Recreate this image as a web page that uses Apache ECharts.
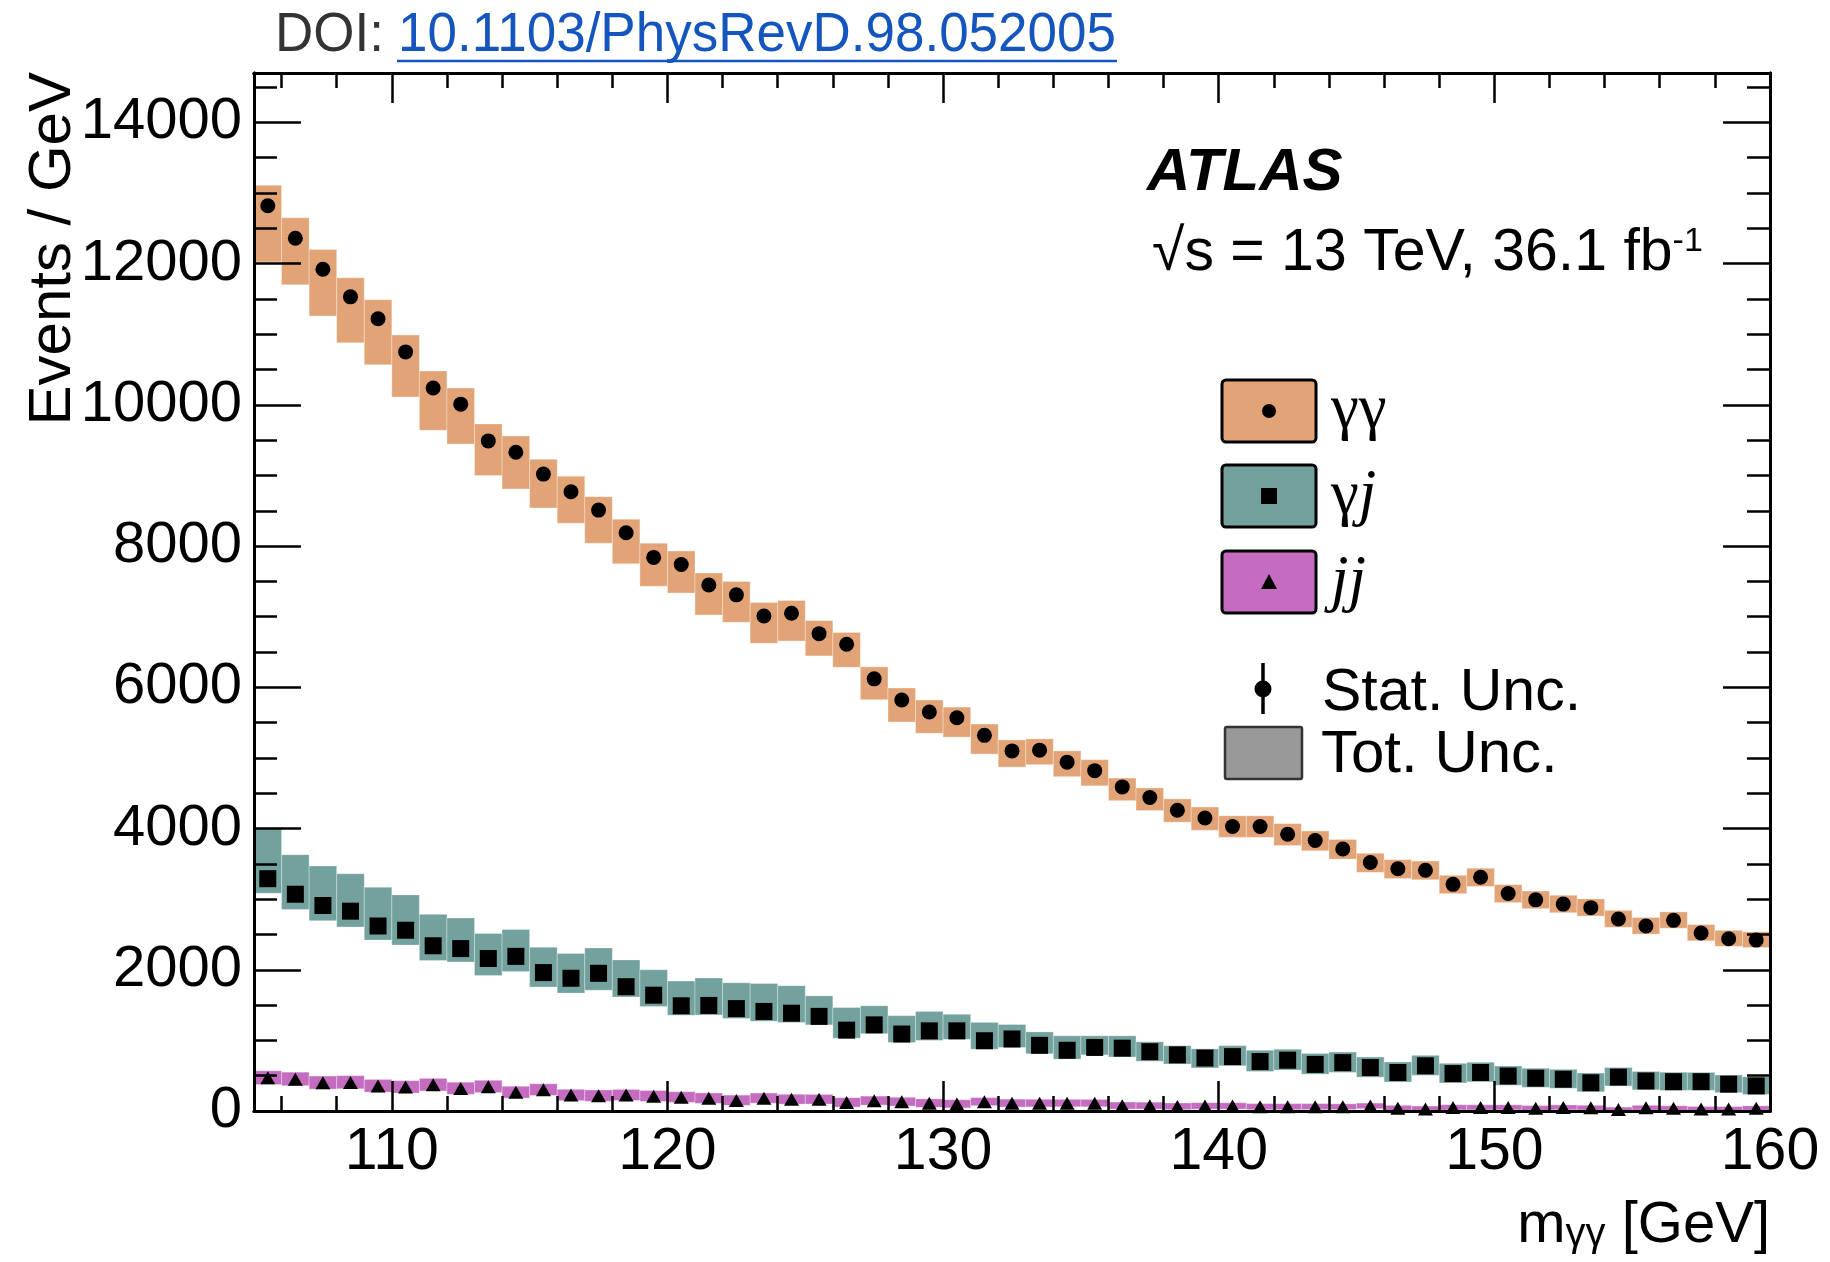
<!DOCTYPE html>
<html><head><meta charset="utf-8">
<script src="https://cdn.jsdelivr.net/npm/echarts@6/dist/echarts.min.js"></script>
<style>html,body{margin:0;padding:0;background:#fff}#c{width:1830px;height:1262px}</style>
</head><body><div id="c"></div>
<script>
// ---------------- data ----------------
const massCenters = [105.5,106.5,107.5,108.5,109.5,110.5,111.5,112.5,113.5,114.5,115.5,116.5,117.5,118.5,119.5,120.5,121.5,122.5,123.5,124.5,125.5,126.5,127.5,128.5,129.5,130.5,131.5,132.5,133.5,134.5,135.5,136.5,137.5,138.5,139.5,140.5,141.5,142.5,143.5,144.5,145.5,146.5,147.5,148.5,149.5,150.5,151.5,152.5,153.5,154.5,155.5,156.5,157.5,158.5,159.5];
const binHalfWidth = 0.5;

const yyValues = [12820,12360,11920,11530,11220,10750,10240,10010,9490,9330,9020,8770,8510,8190,7840,7740,7450,7310,7010,7050,6760,6610,6120,5820,5650,5570,5320,5100,5110,4940,4820,4590,4440,4260,4150,4030,4030,3920,3830,3710,3520,3430,3410,3210,3310,3080,2990,2930,2880,2720,2620,2700,2520,2440,2420];
const yyTotUp = [290,290,280,270,270,240,240,230,240,230,210,220,190,190,200,190,170,190,190,180,185,165,170,170,170,150,160,155,160,160,155,125,135,160,155,150,150,150,135,135,130,130,130,128,128,126,125,125,124,122,120,120,120,118,118];
const yyTotDown = [795,660,660,650,650,640,600,565,490,520,480,445,470,440,410,405,425,390,385,395,315,325,295,310,300,275,265,230,205,205,215,195,185,170,175,155,155,160,145,142,140,138,135,132,130,128,125,122,120,118,115,112,110,108,105];

const yjValues = [3290,3070,2910,2830,2620,2560,2340,2300,2160,2190,1960,1880,1950,1760,1640,1490,1495,1450,1410,1385,1340,1145,1220,1090,1135,1135,995,1020,930,860,900,890,840,795,750,770,700,720,660,685,615,545,640,530,545,495,465,450,400,480,425,415,415,380,355];
const yjTotUp = [715,560,560,530,550,500,445,435,355,380,360,350,360,380,360,350,390,365,395,390,290,320,270,260,275,235,260,205,190,205,165,175,140,130,130,155,160,155,155,150,150,150,148,145,145,142,140,140,138,136,135,134,132,130,130];
const yjTotDown = [205,215,215,225,200,210,210,190,240,215,205,210,240,145,160,135,135,140,140,130,120,115,125,120,135,120,120,120,120,125,105,125,135,130,140,130,140,140,138,138,136,135,135,133,132,130,130,128,128,126,125,124,122,120,120];

const jjValues = [470,450,400,405,355,340,370,320,345,265,300,225,215,225,210,195,180,150,180,165,165,120,145,130,110,100,130,110,110,110,110,75,75,65,70,70,60,60,60,60,70,40,30,50,50,50,40,50,45,20,45,40,30,30,40];
const jjTotUp = [100,100,95,96,92,90,92,88,90,85,86,82,83,80,80,78,76,75,74,72,70,68,66,64,62,60,60,58,56,55,54,52,50,48,48,47,45,44,44,42,42,40,40,39,38,37,37,36,36,35,35,34,34,33,33];
const jjTotDown = [95,92,90,90,88,86,86,84,84,82,80,78,78,76,75,74,72,70,70,68,66,64,62,60,58,56,55,54,52,50,50,48,47,46,45,44,42,42,40,40,38,38,36,36,35,35,34,34,33,33,32,32,31,31,30];

const xMajorTicks = [110,120,130,140,150,160];
const xMinorTicks = [106,108,112,114,116,118,122,124,126,128,132,134,136,138,142,144,146,148,152,154,156,158];
const yMajorTicks = [0,2000,4000,6000,8000,10000,12000,14000];
const yMinorTicks = [500,1000,1500,2500,3000,3500,4500,5000,5500,6500,7000,7500,8500,9000,9500,10500,11000,11500,12500,13000,13500,14500];
const xRange = [105,160];
const yRange = [0,14700];

const seriesNames = ['γγ','γj','jj'];
const seriesColors = ['#e2a477','#73a19e','#c46dc0'];

// ---------------- chart ----------------
const chart = echarts.init(document.getElementById('c'), null, {renderer:'canvas'});
const FONT = 'Liberation Sans, Arial, Helvetica, sans-serif';
const SERIF = 'Liberation Serif, Times New Roman, serif';

function boxData(vals, up, dn){ return massCenters.map((c,i)=>[c, vals[i]-dn[i], vals[i]+up[i]]); }
function pointData(vals){ return massCenters.map((c,i)=>[c, vals[i]]); }
function boxRenderer(fill){
  return function(params, api){
    const c = api.value(0), lo = api.value(1), hi = api.value(2);
    const tl = api.coord([c - binHalfWidth, hi]);
    const br = api.coord([c + binHalfWidth, lo]);
    return {type:'rect', shape:{x:tl[0], y:tl[1], width:br[0]-tl[0], height:br[1]-tl[1]},
      style:{fill:fill, stroke:'rgba(255,255,255,0.3)', lineWidth:1}};
  };
}
const plainNum = v => String(v);

function xAxisDef(pos, ticks, len, labels){
  return {type:'value', min:xRange[0], max:xRange[1], position:pos, z:5,
    axisLine:{show:true, onZero:false, lineStyle:{color:'#000', width:3}},
    axisTick:{show:true, inside:true, length:len, customValues:ticks, lineStyle:{color:'#000', width:2.5}},
    minorTick:{show:false}, splitLine:{show:false},
    axisLabel: labels ? {show:true, customValues:ticks, formatter:plainNum, margin:12, fontSize:59, fontFamily:FONT, color:'#000'} : {show:false}};
}
function yAxisDef(pos, ticks, len, labels){
  return {type:'value', min:yRange[0], max:yRange[1], position:pos, z:5,
    axisLine:{show:true, onZero:false, lineStyle:{color:'#000', width:3}},
    axisTick:{show:true, inside:true, length:len, customValues:ticks, lineStyle:{color:'#000', width:2.5}},
    minorTick:{show:false}, splitLine:{show:false},
    axisLabel: labels ? {show:true, customValues:ticks, formatter:plainNum, margin:12, fontSize:58, fontFamily:FONT, color:'#000'} : {show:false}};
}

const legendRows = [
  {y:380, sym:'circle'},
  {y:465, sym:'rect'},
  {y:551, sym:'triangle'}
];
const graphics = [];
const TL = {align:'left', verticalAlign:'middle', textAlign:'left', textVerticalAlign:'middle'};
// DOI header
graphics.push({type:'text', x:275, y:36, scaleY:1.05, z:10, style:Object.assign({text:'DOI:', fill:'#333', font:'53px '+FONT}, TL)});
graphics.push({type:'text', x:398, y:36, scaleY:1.05, z:10, style:Object.assign({text:'10.1103/PhysRevD.98.052005', fill:'#1456be', font:'53px '+FONT}, TL)});
graphics.push({type:'line', z:10, shape:{x1:397, y1:61, x2:1117, y2:61}, style:{stroke:'#1456be', lineWidth:2.5}});
// ATLAS label
graphics.push({type:'text', x:1147, y:173, z:10, style:Object.assign({text:'ATLAS', fill:'#000', font:'italic bold 60px '+FONT}, TL)});
graphics.push({type:'text', x:1152, y:254, z:10, style:Object.assign({text:'{a|√s = 13 TeV, 36.1 fb}{s|-1}',
  rich:{a:{fontSize:59, fontFamily:FONT, fill:'#000', color:'#000', lineHeight:59}, s:{fontSize:34, fontFamily:FONT, fill:'#000', color:'#000', lineHeight:34, verticalAlign:'top'}}}, TL)});
// legend
legendRows.forEach((r,i)=>{
  const cx = 1269, cy = r.y + 31;
  graphics.push({type:'rect', z:10, shape:{x:1222, y:r.y, width:94, height:62, r:4}, style:{fill:seriesColors[i], stroke:'#000', lineWidth:3}});
  if (r.sym==='circle') graphics.push({type:'circle', z:11, shape:{cx:cx, cy:cy, r:7}, style:{fill:'#000'}});
  if (r.sym==='rect') graphics.push({type:'rect', z:11, shape:{x:cx-8, y:cy-8, width:16, height:16}, style:{fill:'#000'}});
  if (r.sym==='triangle') graphics.push({type:'polygon', z:11, shape:{points:[[cx,cy-8],[cx+8,cy+7],[cx-8,cy+7]]}, style:{fill:'#000'}});
});
graphics.push({type:'text', x:1331, y:410, z:10, style:Object.assign({text:'{g|γγ}', rich:{g:{fontSize:63, fontFamily:SERIF, fill:'#000', color:'#000'}}}, TL)});
graphics.push({type:'text', x:1331, y:496, z:10, style:Object.assign({text:'{g|γ}{j|j}', rich:{g:{fontSize:63, fontFamily:SERIF, fill:'#000', color:'#000'}, j:{fontSize:63, fontFamily:SERIF, fontStyle:'italic', fill:'#000', color:'#000'}}}, TL)});
graphics.push({type:'text', x:1331, y:582, z:10, style:Object.assign({text:'{j|jj}', rich:{j:{fontSize:63, fontFamily:SERIF, fontStyle:'italic', fill:'#000', color:'#000'}}}, TL)});
// stat / tot unc
graphics.push({type:'line', z:10, shape:{x1:1263, y1:663, x2:1263, y2:714}, style:{stroke:'#000', lineWidth:3.5}});
graphics.push({type:'circle', z:11, shape:{cx:1263, cy:689, r:8.5}, style:{fill:'#000'}});
graphics.push({type:'text', x:1322, y:694, z:10, style:Object.assign({text:'Stat. Unc.', fill:'#000', font:'59px '+FONT}, TL)});
graphics.push({type:'rect', z:10, shape:{x:1225, y:727, width:77, height:52, r:2}, style:{fill:'#999999', stroke:'#333', lineWidth:2.5}});
graphics.push({type:'text', x:1321, y:755, z:10, style:Object.assign({text:'Tot. Unc.', fill:'#000', font:'60px '+FONT}, TL)});
// axis titles
graphics.push({type:'text', x:53, y:72, rotation:Math.PI/2, z:10, style:{text:'Events / GeV', fill:'#000', font:'60px '+FONT, align:'right', verticalAlign:'middle', textAlign:'right', textVerticalAlign:'middle'}});
graphics.push({type:'text', x:1770, y:1226, z:10, style:{text:'{m|m}{s|γγ}{g| [GeV]}', align:'right', verticalAlign:'middle', textAlign:'right', textVerticalAlign:'middle',
  rich:{m:{fontSize:58, fontFamily:FONT, fill:'#000', color:'#000', lineHeight:58}, s:{fontSize:40, fontFamily:FONT, fill:'#000', color:'#000', lineHeight:40, verticalAlign:'bottom'}, g:{fontSize:58, fontFamily:FONT, fill:'#000', color:'#000', lineHeight:58}}}});

const series = [];
const valueSets = [[yyValues,yyTotUp,yyTotDown],[yjValues,yjTotUp,yjTotDown],[jjValues,jjTotUp,jjTotDown]];
valueSets.forEach((s,i)=>{
  series.push({type:'custom', name:seriesNames[i]+' tot', xAxisIndex:0, yAxisIndex:0, z:2,
    renderItem: boxRenderer(seriesColors[i]), encode:{x:0, y:[1,2]}, data: boxData(s[0], s[1], s[2])});
});
const syms = [['circle',15],['rect',17],['triangle',[15,13]]];
valueSets.forEach((s,i)=>{
  series.push({type:'scatter', name:seriesNames[i], xAxisIndex:0, yAxisIndex:0, z:3,
    symbol:syms[i][0], symbolSize:syms[i][1], itemStyle:{color:'#000', opacity:1}, data: pointData(s[0])});
});

chart.setOption({
  animation:false,
  backgroundColor:'#fff',
  grid:{left:254, right:60, top:73, bottom:151, containLabel:false, outerBoundsMode:'none'},
  xAxis:[xAxisDef('bottom', xMajorTicks, 30, true), xAxisDef('bottom', xMinorTicks, 15, false),
         xAxisDef('top', xMajorTicks, 30, false), xAxisDef('top', xMinorTicks, 15, false)],
  yAxis:[yAxisDef('left', yMajorTicks, 47, true), yAxisDef('left', yMinorTicks, 23, false),
         yAxisDef('right', yMajorTicks, 47, false), yAxisDef('right', yMinorTicks, 23, false)],
  graphic: graphics,
  series: series
});
</script></body></html>
